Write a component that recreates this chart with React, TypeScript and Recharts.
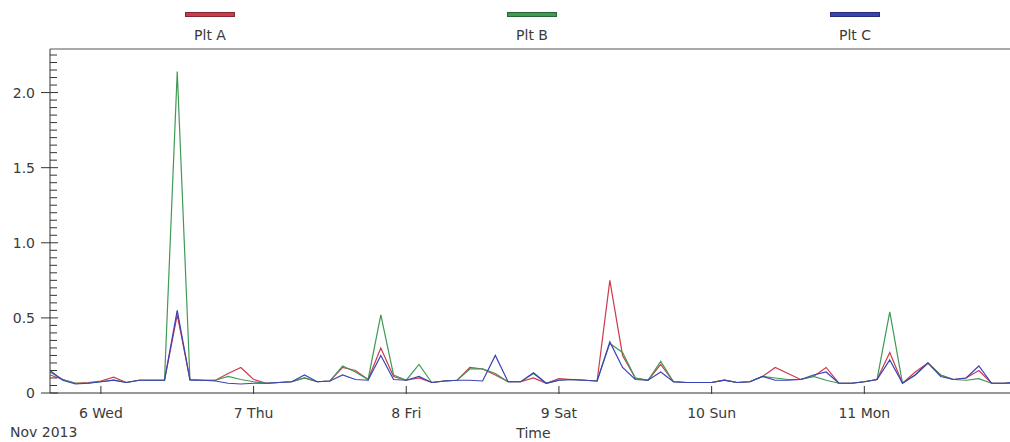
import { LineChart, Line, XAxis, YAxis, Legend, ReferenceLine } from "recharts";

// hours counted from Nov 6 2013 00:00, one reading every 2 hours
const hours = [
  -8, -6, -4, -2, 0, 2, 4, 6, 8, 10, 12, 14, 16, 18, 20, 22, 24, 26, 28, 30,
  32, 34, 36, 38, 40, 42, 44, 46, 48, 50, 52, 54, 56, 58, 60, 62, 64, 66, 68,
  70, 72, 74, 76, 78, 80, 82, 84, 86, 88, 90, 92, 94, 96, 98, 100, 102, 104,
  106, 108, 110, 112, 114, 116, 118, 120, 122, 124, 126, 128, 130, 132, 134,
  136, 138, 140, 142, 144,
];

const pltA = [
  0.12, 0.09, 0.065, 0.07, 0.08, 0.105, 0.07, 0.085, 0.085, 0.085, 0.52, 0.09,
  0.085, 0.085, 0.13, 0.17, 0.09, 0.065, 0.07, 0.075, 0.1, 0.075, 0.08, 0.17,
  0.15, 0.09, 0.3, 0.11, 0.085, 0.1, 0.07, 0.08, 0.085, 0.17, 0.16, 0.12, 0.075,
  0.075, 0.1, 0.065, 0.095, 0.09, 0.085, 0.08, 0.75, 0.25, 0.1, 0.085, 0.19,
  0.075, 0.07, 0.07, 0.07, 0.085, 0.07, 0.075, 0.11, 0.17, 0.13, 0.09, 0.11,
  0.17, 0.065, 0.065, 0.075, 0.09, 0.27, 0.065, 0.14, 0.2, 0.12, 0.09, 0.1,
  0.15, 0.065, 0.065, 0.07,
];

const pltB = [
  0.14, 0.09, 0.065, 0.065, 0.075, 0.085, 0.07, 0.085, 0.085, 0.085, 2.14, 0.09,
  0.085, 0.085, 0.11, 0.09, 0.075, 0.065, 0.07, 0.075, 0.1, 0.075, 0.08, 0.18,
  0.14, 0.09, 0.52, 0.12, 0.085, 0.19, 0.07, 0.08, 0.085, 0.16, 0.16, 0.13,
  0.075, 0.075, 0.13, 0.065, 0.085, 0.09, 0.085, 0.08, 0.33, 0.27, 0.1, 0.085,
  0.21, 0.075, 0.07, 0.07, 0.07, 0.085, 0.07, 0.075, 0.11, 0.1, 0.09, 0.09, 0.11,
  0.085, 0.065, 0.065, 0.075, 0.09, 0.54, 0.065, 0.12, 0.2, 0.12, 0.09, 0.085,
  0.095, 0.065, 0.065, 0.07,
];

const pltC = [
  0.15, 0.085, 0.06, 0.065, 0.075, 0.085, 0.07, 0.085, 0.085, 0.085, 0.55, 0.085,
  0.085, 0.08, 0.065, 0.06, 0.065, 0.065, 0.07, 0.075, 0.12, 0.075, 0.08, 0.12,
  0.09, 0.085, 0.25, 0.09, 0.085, 0.11, 0.07, 0.08, 0.085, 0.085, 0.08, 0.25,
  0.075, 0.075, 0.135, 0.065, 0.085, 0.09, 0.085, 0.08, 0.34, 0.17, 0.09, 0.085,
  0.14, 0.075, 0.07, 0.07, 0.07, 0.085, 0.07, 0.075, 0.11, 0.085, 0.085, 0.09,
  0.12, 0.14, 0.065, 0.065, 0.075, 0.09, 0.22, 0.065, 0.12, 0.2, 0.11, 0.09, 0.1,
  0.18, 0.065, 0.065, 0.07,
];

const dayTicks = [0, 24, 48, 72, 96, 120];
const dayLabels = ["6 Wed", "7 Thu", "8 Fri", "9 Sat", "10 Sun", "11 Mon"];

const yTicks = [
  0, 0.05, 0.1, 0.15, 0.2, 0.25, 0.3, 0.35, 0.4, 0.45, 0.5, 0.55, 0.6, 0.65,
  0.7, 0.75, 0.8, 0.85, 0.9, 0.95, 1, 1.05, 1.1, 1.15, 1.2, 1.25, 1.3, 1.35,
  1.4, 1.45, 1.5, 1.55, 1.6, 1.65, 1.7, 1.75, 1.8, 1.85, 1.9, 1.95, 2, 2.05,
  2.1, 2.15, 2.2, 2.25,
];
const yMajor = [0, 0.5, 1, 1.5, 2];
const yMajorLabels = ["0", "0.5", "1.0", "1.5", "2.0"];

const seriesNames = ["Plt A", "Plt B", "Plt C"];
const seriesColors = ["#cc3a4e", "#3f9a55", "#3a42b8"];
const legendCenters = [210, 532, 855];

const data = hours.map((h, i) => ({
  h,
  a: pltA[i],
  b: pltB[i],
  c: pltC[i],
}));

const FONT = "'DejaVu Sans', Verdana, sans-serif";
const TEXT = "#3a3a3a";

function YTick(props: any) {
  const { x, y, payload } = props;
  const idx = yMajor.indexOf(payload.value);
  if (idx < 0) {
    return <line x1={x} x2={x + 7} y1={y} y2={y} stroke="#333" />;
  }
  return (
    <g>
      <line x1={x - 9} x2={x + 8} y1={y} y2={y} stroke="#333" />
      <text
        x={x - 15}
        y={y}
        dy="0.36em"
        textAnchor="end"
        fontSize={14}
        fontFamily={FONT}
        fill={TEXT}
      >
        {yMajorLabels[idx]}
      </text>
    </g>
  );
}

function XTick(props: any) {
  const { x, y, payload } = props;
  const idx = dayTicks.indexOf(payload.value);
  return (
    <g>
      <line x1={x} x2={x} y1={y - 7} y2={y + 1} stroke="#333" />
      <text
        x={x}
        y={y + 20}
        dy="0.36em"
        textAnchor="middle"
        fontSize={14}
        fontFamily={FONT}
        fill={TEXT}
      >
        {dayLabels[idx]}
      </text>
    </g>
  );
}

function LegendBox(props: any) {
  const { payload = [] } = props;
  return (
    <div style={{ position: "relative", width: 1017, height: 49 }}>
      {payload.map((item: any, i: number) => (
        <div key={item.value}>
          <div
            style={{
              position: "absolute",
              left: legendCenters[i] - 25,
              top: 12,
              width: 48,
              height: 3,
              background: item.color,
              border: "1px solid rgba(0,0,0,0.35)",
            }}
          />
          <div
            style={{
              position: "absolute",
              left: legendCenters[i] - 40,
              width: 80,
              top: 26,
              textAlign: "center",
              fontSize: 14,
              lineHeight: "18px",
              fontFamily: FONT,
              color: TEXT,
            }}
          >
            {item.value}
          </div>
        </div>
      ))}
    </div>
  );
}

export default function App() {
  return (
    <div
      style={{
        position: "absolute",
        left: 0,
        top: 0,
        width: 1010,
        height: 442,
        overflow: "hidden",
        background: "#fff",
      }}
    >
      <LineChart
        width={1017}
        height={442}
        data={data}
        margin={{ top: 0, right: 0, bottom: 0, left: 0 }}
      >
        <Legend
          verticalAlign="top"
          align="left"
          height={49}
          width={1017}
          wrapperStyle={{ left: 0, top: 0 }}
          content={<LegendBox />}
        />
        <XAxis
          type="number"
          dataKey="h"
          domain={[-8, 144]}
          allowDataOverflow
          ticks={dayTicks}
          interval={0}
          height={49}
          tickSize={0}
          tickMargin={0}
          tickLine={false}
          axisLine={{ stroke: "#333" }}
          tick={<XTick />}
          label={{
            value: "Time",
            position: "insideBottom",
            offset: 4,
            fontSize: 14,
            fontFamily: FONT,
            fill: TEXT,
          }}
        />
        <YAxis
          type="number"
          domain={[0, 2.29]}
          allowDataOverflow
          ticks={yTicks}
          interval={0}
          width={50}
          tickSize={0}
          tickMargin={0}
          tickLine={false}
          axisLine={{ stroke: "#333" }}
          tick={<YTick />}
        />
        <ReferenceLine y={2.29} stroke="#555" />
        <Line
          name={seriesNames[0]}
          dataKey="a"
          type="linear"
          stroke={seriesColors[0]}
          strokeWidth={1.2}
          dot={false}
          isAnimationActive={false}
        />
        <Line
          name={seriesNames[1]}
          dataKey="b"
          type="linear"
          stroke={seriesColors[1]}
          strokeWidth={1.2}
          dot={false}
          isAnimationActive={false}
        />
        <Line
          name={seriesNames[2]}
          dataKey="c"
          type="linear"
          stroke={seriesColors[2]}
          strokeWidth={1.2}
          dot={false}
          isAnimationActive={false}
        />
      </LineChart>
      <div
        style={{
          position: "absolute",
          left: 10,
          top: 424,
          fontSize: 14,
          lineHeight: "16px",
          fontFamily: FONT,
          color: TEXT,
        }}
      >
        Nov 2013
      </div>
    </div>
  );
}
